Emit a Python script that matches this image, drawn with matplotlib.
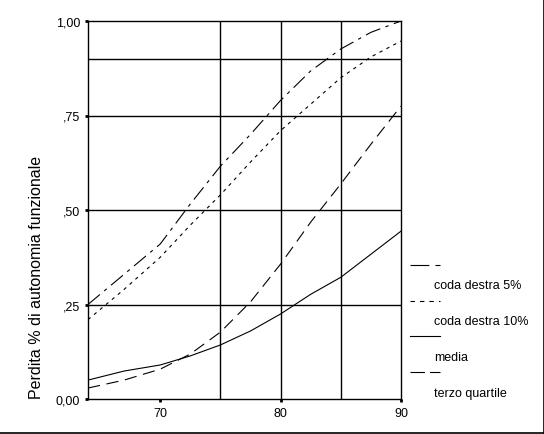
import matplotlib
matplotlib.use("Agg")
import matplotlib.pyplot as plt
from matplotlib.lines import Line2D
from matplotlib.ticker import FixedLocator

plt.rcParams['font.family'] = ['Liberation Sans', 'DejaVu Sans']

# Data
age = [64, 67, 70, 72.5, 75, 77.5, 80, 82.5, 85, 87.5, 90]
coda5 = [0.25, 0.33, 0.41, 0.516, 0.616, 0.70, 0.79, 0.868, 0.926, 0.97, 1.0]
coda10 = [0.21, 0.29, 0.375, 0.46, 0.54, 0.627, 0.71, 0.78, 0.85, 0.905, 0.947]
media = [0.05, 0.074, 0.09, 0.114, 0.143, 0.18, 0.225, 0.277, 0.322, 0.383, 0.444]
terzo = [0.029, 0.05, 0.079, 0.119, 0.177, 0.257, 0.357, 0.468, 0.569, 0.674, 0.775]

labels = ["coda destra 5%", "coda destra 10%", "media", "terzo quartile"]
xticks = [70, 80, 90]
yticks = [0.0, 0.25, 0.5, 0.75, 1.0]
yticklabels = ["0,00", ",25", ",50", ",75", "1,00"]
xgrid = [75, 80, 85]
ygrid = [0.25, 0.5, 0.75, 0.9]

W, H = 544, 435
fig = plt.figure(figsize=(W / 100, H / 100), dpi=100)
ax = fig.add_axes([88 / W, (H - 400) / H, (401 - 88) / W, (400 - 22) / H])

styles = [
    dict(linestyle=(0, (14, 5, 3, 5))),
    dict(linestyle=(0, (3, 4))),
    dict(linestyle='-'),
    dict(linestyle=(0, (11, 6))),
]
series = [coda5, coda10, media, terzo]
for s, st in zip(series, styles):
    ax.plot(age, s, color='black', lw=0.8, **st)

for g in xgrid:
    ax.axvline(g, color='black', lw=1.0, zorder=0)
for g in ygrid:
    ax.axhline(g, color='black', lw=1.0, zorder=0)

ax.set_xlim(64, 90)
ax.set_ylim(0, 1.0)
ax.xaxis.set_major_locator(FixedLocator(xticks))
ax.set_xticklabels([str(t) for t in xticks])
ax.yaxis.set_major_locator(FixedLocator(yticks))
ax.set_yticklabels(yticklabels)
ax.tick_params(axis='both', direction='out', length=2.5, width=2, color='black',
               labelsize=9, pad=3)
for sp in ax.spines.values():
    sp.set_linewidth(1.0)
    sp.set_color('black')
ylab = ax.set_ylabel("Perdita % di autonomia funzionale", fontsize=11.5)
ylab.set_rotation_mode('default')
ylab.set_verticalalignment('center')
ylab.set_horizontalalignment('center')
ax.yaxis.set_label_coords(-0.166, 0.323)

# Legend drawn manually (sample line above its label)
leg_styles = [
    dict(linestyle=(0, (17, 5.5, 4.5, 20))),
    dict(linestyle=(0, (4, 4.5))),
    dict(linestyle='-'),
    dict(linestyle=(0, (13, 4.5, 10, 20))),
]
leg_line_y = [266, 302, 337, 373]
leg_text_y = [286, 322, 358, 394]
for st, ly, ty, lab in zip(leg_styles, leg_line_y, leg_text_y, labels):
    fig.add_artist(Line2D([410 / W, 440 / W], [(H - ly) / H, (H - ly) / H],
                          color='black', lw=0.8, **st))
    fig.text(434 / W, (H - ty) / H, lab, fontsize=9, va='center', ha='left')

# Figure frame on right and bottom
fig.add_artist(Line2D([0, 543.5 / W], [(H - 433.5) / H] * 2, color='black', lw=1.2))
fig.add_artist(Line2D([543.5 / W] * 2, [(H - 433.5) / H, 1], color='black', lw=1.2))

fig.savefig("out.png", dpi=100)
